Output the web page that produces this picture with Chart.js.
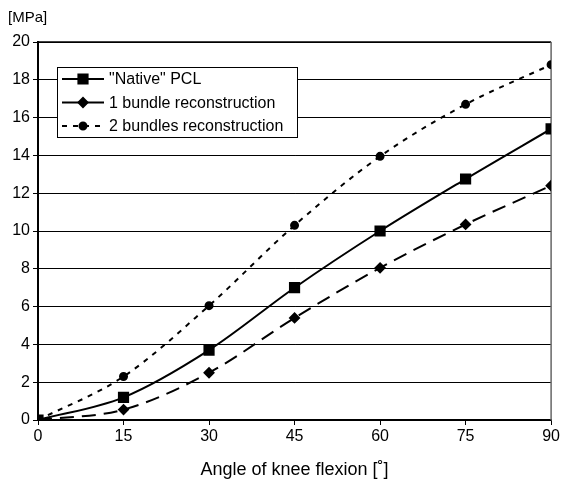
<!DOCTYPE html>
<html>
<head>
<meta charset="utf-8">
<script src="https://cdn.jsdelivr.net/npm/chart.js@4.4.1/dist/chart.umd.min.js"></script>
<style>
  body { margin: 0; background: #fff; }
  #wrap { width: 562px; height: 485px; }
</style>
</head>
<body>
<div id="wrap"><canvas id="pcl-chart"></canvas></div>
<script>
const angles = [0, 15, 30, 45, 60, 75, 90];
const nativePCL = [0, 1.2, 3.7, 7.0, 10.0, 12.75, 15.4];
const oneBundle = [0, 0.55, 2.5, 5.4, 8.05, 10.35, 12.4];
const twoBundles = [0, 2.3, 6.05, 10.3, 13.95, 16.7, 18.8];
const seriesLabels = ['"Native" PCL', "1 bundle reconstruction", "2 bundles reconstruction"];
const unitLabel = "[MPa]";

const FONT = "'Liberation Sans', Arial, sans-serif";

function toPoints(values) {
  return values.map((v, i) => ({ x: angles[i], y: v }));
}

// frame on top and right of the plot area + unit label in the corner
const framePlugin = {
  id: "frame",
  beforeDatasetsDraw(chart) {
    const { ctx, chartArea: a } = chart;
    ctx.save();
    ctx.lineWidth = 1.5;
    ctx.strokeStyle = "#000";
    ctx.beginPath();
    ctx.moveTo(a.left, a.top);
    ctx.lineTo(a.right, a.top);
    ctx.stroke();
    ctx.strokeStyle = "#666";
    ctx.beginPath();
    ctx.moveTo(a.right, a.top);
    ctx.lineTo(a.right, a.bottom);
    ctx.stroke();
    ctx.fillStyle = "#000";
    ctx.font = "15px " + FONT;
    ctx.textBaseline = "alphabetic";
    ctx.fillText(unitLabel, 8, 22);
    ctx.restore();
  },
};

// legend box drawn inside the plot, like the original figure
const boxLegend = {
  id: "boxLegend",
  afterDraw(chart) {
    const { ctx } = chart;
    const x0 = 57, y0 = 67, w = 240, h = 70;
    ctx.save();
    ctx.fillStyle = "#fff";
    ctx.fillRect(x0, y0, w, h);
    ctx.strokeStyle = "#000";
    ctx.lineWidth = 1;
    ctx.strokeRect(x0 + 0.5, y0 + 0.5, w, h);
    chart.data.datasets.forEach((ds, i) => {
      const y = y0 + 12 + i * 23.5;
      ctx.strokeStyle = "#000";
      ctx.lineWidth = 2;
      ctx.setLineDash(i === 2 ? [5, 6] : []);
      ctx.beginPath();
      ctx.moveTo(x0 + 5, y);
      ctx.lineTo(x0 + 47, y);
      ctx.stroke();
      ctx.setLineDash([]);
      ctx.fillStyle = "#000";
      Chart.helpers.drawPoint(ctx, {
        pointStyle: ds.pointStyle,
        radius: ds.pointRadius,
        borderWidth: 1,
      }, x0 + 26, y);
      ctx.fillStyle = "#000";
      ctx.font = "16px " + FONT;
      ctx.textBaseline = "middle";
      ctx.fillText(ds.label, x0 + 52, y + 1);
    });
    ctx.restore();
  },
};

const chartData = {
  type: "line",
  data: {
    datasets: [
      {
        label: seriesLabels[0],
        data: toPoints(nativePCL),
        borderColor: "#000",
        backgroundColor: "#000",
        borderWidth: 2,
        pointStyle: "rect",
        pointRadius: 6.5,
        cubicInterpolationMode: "monotone",
      },
      {
        label: seriesLabels[1],
        data: toPoints(oneBundle),
        borderColor: "#000",
        backgroundColor: "#000",
        borderWidth: 2,
        borderDash: [14, 8],
        pointStyle: "rectRot",
        pointRadius: 4.5,
        cubicInterpolationMode: "monotone",
      },
      {
        label: seriesLabels[2],
        data: toPoints(twoBundles),
        borderColor: "#000",
        backgroundColor: "#000",
        borderWidth: 2,
        borderDash: [5, 6],
        pointStyle: "circle",
        pointRadius: 3.5,
        cubicInterpolationMode: "monotone",
      },
    ],
  },
  options: {
    responsive: true,
    maintainAspectRatio: false,
    animation: false,
    layout: { padding: { top: 42, right: 9, bottom: 4, left: 0 } },
    plugins: {
      legend: { display: false },
      tooltip: { enabled: false },
    },
    scales: {
      x: {
        type: "linear",
        min: 0,
        max: 90,
        afterFit: (s) => { s.height = 61; },
        ticks: { stepSize: 15, color: "#000", padding: 2, font: { family: FONT, size: 16 } },
        grid: { drawOnChartArea: false, drawTicks: true, tickLength: 5, color: "#000" },
        border: { color: "#000", width: 1.5 },
        title: {
          display: true,
          text: "Angle of knee flexion [˚]",
          color: "#000",
          font: { family: FONT, size: 18 },
          padding: { top: 4, bottom: 0 },
        },
      },
      y: {
        min: 0,
        max: 20,
        afterFit: (s) => { s.width = 38; },
        ticks: { stepSize: 2, color: "#000", padding: 3, font: { family: FONT, size: 16 } },
        grid: { color: "#000", lineWidth: 1, tickLength: 5 },
        border: { color: "#000", width: 2 },
      },
    },
  },
  plugins: [framePlugin, boxLegend],
};

var pclChart = new Chart(document.getElementById("pcl-chart"), chartData);
</script>
</body>
</html>
